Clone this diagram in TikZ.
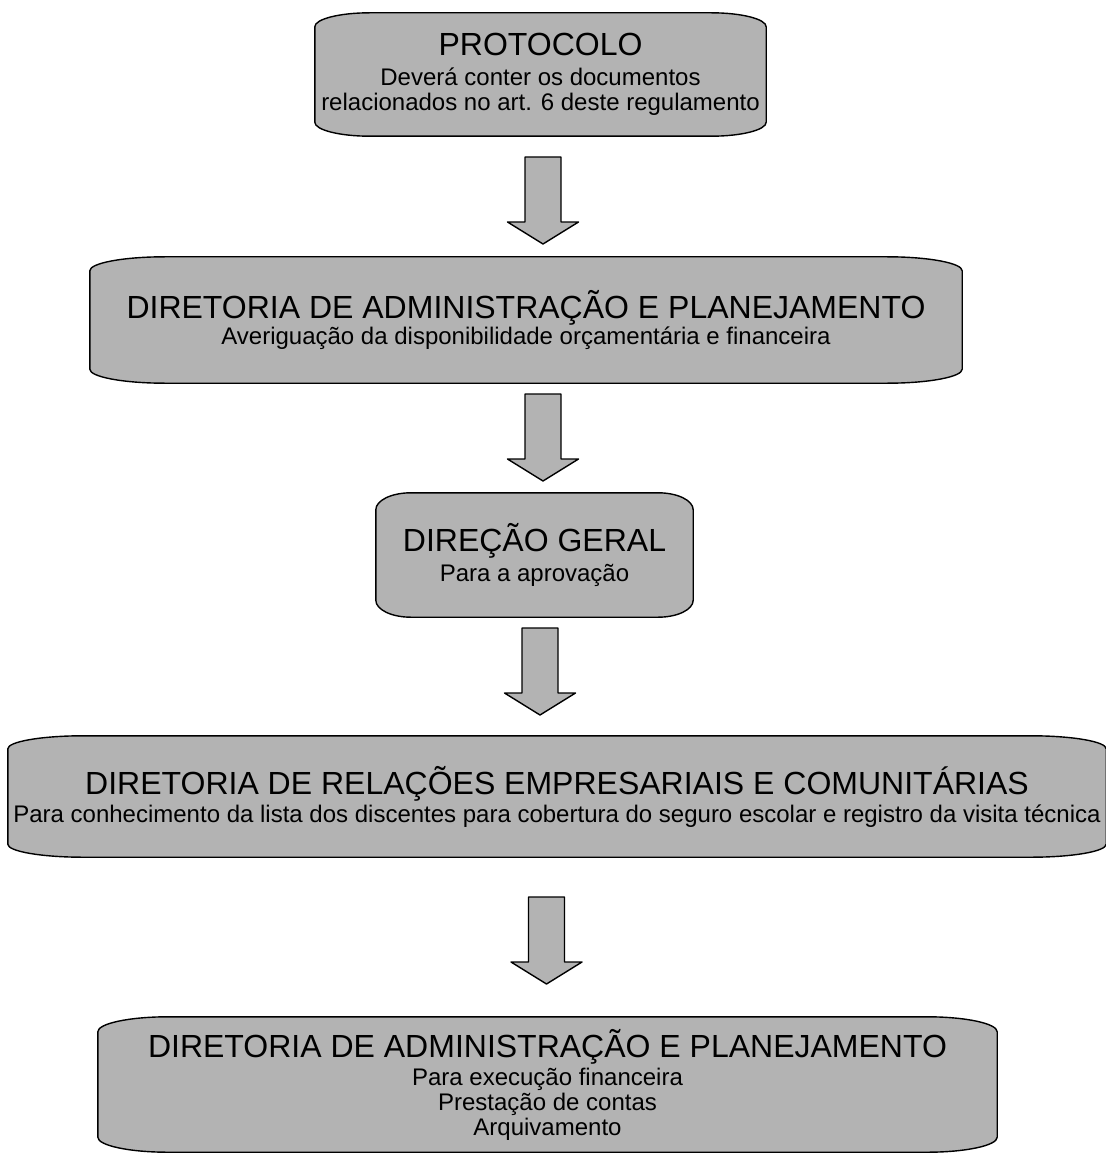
\documentclass[tikz,border=0pt]{standalone}
\usepackage{fontspec}
\setmainfont{Liberation Sans}
\definecolor{boxgray}{RGB}{179,179,179}
\pgfdeclarelayer{background}
\pgfsetlayers{background,main}
\tikzset{
  termbox/.style={draw=none, inner sep=0pt, align=center, font=\fontsize{24}{25}\selectfont},
  shapeline/.style={draw=black, fill=boxgray, line width=1.4pt, line join=round},
}
\newcommand\titl[1]{{\fontsize{32}{32}\selectfont #1}}
% #1 node name, #2 horizontal corner radius, #3 vertical corner radius
\newcommand\termshape[3]{%
  \draw[shapeline] ([xshift=#2pt]#1.north west) -- ([xshift=-#2pt]#1.north east)
    .. controls ([xshift=-0.448*#2pt]#1.north east) and ([yshift=-0.448*#3pt]#1.north east) .. ([yshift=-#3pt]#1.north east)
    -- ([yshift=#3pt]#1.south east)
    .. controls ([yshift=0.448*#3pt]#1.south east) and ([xshift=-0.448*#2pt]#1.south east) .. ([xshift=-#2pt]#1.south east)
    -- ([xshift=#2pt]#1.south west)
    .. controls ([xshift=0.448*#2pt]#1.south west) and ([yshift=0.448*#3pt]#1.south west) .. ([yshift=#3pt]#1.south west)
    -- ([yshift=-#3pt]#1.north west)
    .. controls ([yshift=-0.448*#3pt]#1.north west) and ([xshift=0.448*#2pt]#1.north west) .. cycle;}
% block arrow: #1 centre x, #2 top y
\newcommand\blockarrow[2]{%
  \draw[shapeline] (#1-18,#2) -- (#1+18,#2) -- (#1+18,#2+65) -- (#1+35.5,#2+65)
    -- (#1,#2+87) -- (#1-35.5,#2+65) -- (#1-18,#2+65) -- cycle;}
\begin{document}
\begin{tikzpicture}[x=1pt,y=-1pt]
\useasboundingbox (0,0) rectangle (1105,1155);

\node[termbox, minimum width=451pt, minimum height=123pt] (b1) at (540.5,74.5)
  {\titl{PROTOCOLO}\\[5pt] Deverá conter os documentos\\ relacionados no art. 6 deste regulamento};
\node[termbox, minimum width=872pt, minimum height=126pt] (b2) at (526,320)
  {\titl{DIRETORIA DE ADMINISTRAÇÃO E PLANEJAMENTO}\\[1pt] Averiguação da disponibilidade orçamentária e financeira};
\node[termbox, minimum width=317pt, minimum height=124pt] (b3) at (534.5,555)
  {\titl{DIREÇÃO GERAL}\\[5pt] Para a aprovação};
\node[termbox, minimum width=1098pt, minimum height=121pt] (b4) at (557,796.5)
  {\titl{DIRETORIA DE RELAÇÕES EMPRESARIAIS E COMUNITÁRIAS}\\[3pt] Para conhecimento da lista dos discentes para cobertura do seguro escolar e registro da visita técnica};
\node[termbox, minimum width=899pt, minimum height=135pt] (b5) at (547.5,1084.5)
  {\titl{DIRETORIA DE ADMINISTRAÇÃO E PLANEJAMENTO}\\[3pt] Para execução financeira\\ Prestação de contas\\ Arquivamento};

\begin{pgfonlayer}{background}
  \termshape{b1}{55}{14}
  \termshape{b2}{75}{14}
  \termshape{b3}{35}{17}
  \termshape{b4}{75}{13}
  \termshape{b5}{70}{15}
\end{pgfonlayer}

\blockarrow{543}{157}
\blockarrow{543}{394}
\blockarrow{540}{628}
\blockarrow{546.5}{897}
\end{tikzpicture}
\end{document}
